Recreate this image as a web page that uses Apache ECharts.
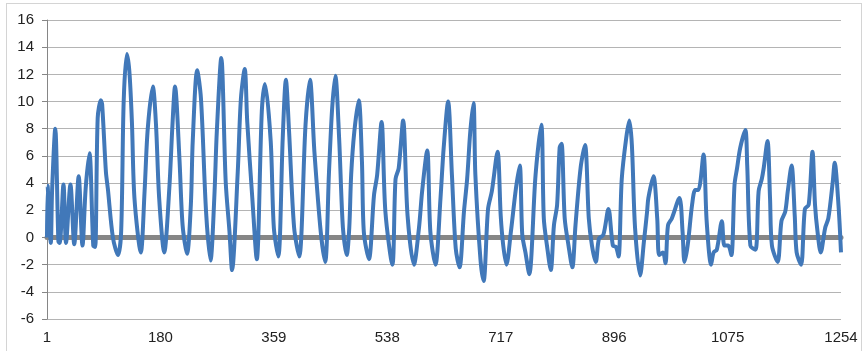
<!DOCTYPE html>
<html lang="en">
  <head>
    <meta charset="UTF-8" />
    <title>line</title>
    <script src="https://cdn.jsdelivr.net/npm/echarts@6/dist/echarts.min.js"></script>
    <style>
      html,
      body {
        margin: 0;
        padding: 0;
        background: #fff;
      }
      .frame {
        position: absolute;
        left: 6px;
        top: 3px;
        width: 854px;
        height: 350px;
        border: 1px solid #d4d4d4;
      }
      .chart {
        position: absolute;
        left: 0;
        top: 0;
        width: 866px;
        height: 351px;
      }
    </style>
  </head>
  <body>
    <div class="frame"></div>
    <div class="chart" id="chart"></div>
    <script type="text/javascript">
      // x tick labels (sample number)
      const xTickLabels = [1, 180, 359, 538, 717, 896, 1075, 1254];
      // y ticks
      const yTicks = [-6, -4, -2, 0, 2, 4, 6, 8, 10, 12, 14, 16];
      // sample offsets (0 = sample 1) of the traced vertices
      const pointIndex = [
        0, 1, 3, 6, 8, 13, 18, 20, 26, 30, 37, 43, 50, 56, 61, 67, 73, 76, 80, 85,
        87, 93, 96, 104, 112, 117, 121, 126, 130, 134, 138, 148, 154, 159, 167, 172, 177, 185, 193, 198,
        202, 209, 214, 221, 227, 230, 237, 243, 251, 258, 264, 268, 275, 282, 288, 292, 301, 306, 312, 316,
        324, 331, 339, 344, 353, 358, 365, 372, 377, 382, 390, 398, 408, 415, 422, 432, 439, 445, 450, 455,
        461, 467, 473, 477, 480, 485, 492, 497, 500, 508, 516, 521, 528, 534, 545, 550, 555, 562, 569, 579,
        587, 592, 600, 605, 613, 621, 626, 633, 639, 645, 651, 658, 663, 668, 673, 676, 684, 689, 696, 702,
        711, 716, 720, 725, 732, 740, 746, 750, 755, 761, 771, 780, 784, 789, 795, 800, 805, 809, 812, 817,
        823, 829, 834, 842, 849, 855, 860, 866, 871, 878, 886, 893, 898, 902, 907, 914, 919, 923, 928, 936,
        942, 947, 949, 957, 963, 966, 972, 976, 980, 986, 998, 1003, 1006, 1011, 1018, 1023, 1028, 1036, 1041, 1048,
        1052, 1057, 1065, 1069, 1075, 1080, 1085, 1089, 1094, 1102, 1105, 1110, 1118, 1123, 1128, 1131, 1137, 1141, 1144, 1153,
        1159, 1165, 1169, 1175, 1180, 1183, 1190, 1196, 1202, 1208, 1212, 1216, 1221, 1228, 1233, 1240, 1243, 1249, 1253,
      ];
      // values at those vertices
      const pointValue = [
        0.0, 3.8, 2.0, -0.4, 3.4, 8.0, -0.3, -0.4, 3.9, -0.4, 3.9, -0.5, 4.5, -0.6, 3.6, 6.2, -0.6, -0.7, 8.8, 10.1,
        9.8, 4.8, 3.6, 0.0, -1.3, 0.4, 10.0, 13.5, 12.2, 8.5, 2.9, -1.1, 3.4, 8.0, 11.1, 8.3, 2.9, -1.1, 3.6, 8.3,
        11.1, 5.8, 0.9, -1.2, 2.4, 7.1, 12.3, 10.2, 1.9, -1.7, 2.9, 7.8, 13.2, 4.1, 0.4, -2.4, 4.8, 10.2, 12.4, 8.5,
        2.9, -1.6, 9.3, 11.3, 7.1, 0.7, -1.4, 7.3, 11.6, 7.8, 0.7, -1.4, 8.3, 11.6, 6.3, 0.4, -1.8, 4.8, 9.5, 11.9,
        7.3, 0.7, -1.3, 0.7, 4.6, 7.8, 10.1, 5.6, 0.4, -1.6, 3.1, 4.6, 8.5, 1.9, -2.0, 4.3, 5.1, 8.6, 1.6, -2.0,
        0.7, 3.4, 6.4, 0.4, -2.0, 2.9, 6.6, 10.0, 4.6, -0.8, -2.2, 1.9, 4.3, 7.8, 9.9, 4.6, -1.6, -3.2, 2.1, 3.4,
        6.3, 1.6, -0.6, -2.0, 0.4, 3.6, 5.3, 0.2, -1.1, -2.7, 4.6, 8.3, 1.4, -0.6, -2.4, 0.9, 2.4, 6.6, 6.9, 1.4,
        -0.6, -2.2, 0.9, 5.1, 6.8, 1.4, -0.6, -1.8, -0.1, 0.2, 2.1, -0.6, -0.7, -1.4, 4.3, 7.3, 8.6, 6.8, 0.7, -2.8,
        -0.3, 1.9, 2.9, 4.5, 1.4, -1.3, -1.1, -1.9, 0.9, 1.4, 2.9, 0.4, -1.8, -0.6, 2.4, 3.5, 3.5, 6.1, 1.2, -2.0,
        -1.1, -0.9, 1.2, -0.6, -0.6, -1.3, 3.9, 5.1, 6.6, 7.9, 5.3, -0.6, -0.9, 3.4, 4.3, 5.1, 7.1, 2.9, -0.6, -1.8,
        1.2, 1.9, 3.4, 5.3, 1.6, -1.1, -2.0, 2.1, 2.4, 6.3, 2.4, 0.4, -1.1, 0.7, 1.4, 4.1, 5.5, 2.4, -1.1,
      ];

      const dom = document.getElementById("chart");
      const myChart = echarts.init(dom);
      const lineData = pointIndex.map((x, i) => [x, pointValue[i]]);
      const step = xTickLabels[1] - xTickLabels[0];
      const labelFont = {
        color: "#222",
        fontSize: 15,
        fontFamily: "Liberation Sans, Arial, sans-serif",
      };

      const options = {
        animation: false,
        grid: {
          left: 47,
          right: 25,
          top: 20,
          bottom: 32,
        },
        xAxis: [
          {
            // axis line crossing at 0
            type: "value",
            min: 0,
            max: xTickLabels[xTickLabels.length - 1] - 1,
            interval: step,
            axisLine: {
              onZero: true,
              lineStyle: { color: "#868686", width: 5 },
            },
            axisTick: { show: false },
            axisLabel: { show: false },
            splitLine: { show: false },
          },
          {
            // labels along the bottom
            type: "value",
            position: "bottom",
            min: 0,
            max: xTickLabels[xTickLabels.length - 1] - 1,
            interval: step,
            axisLine: { show: false },
            axisTick: { show: false },
            splitLine: { show: false },
            axisLabel: {
              ...labelFont,
              margin: 11,
              showMinLabel: true,
              showMaxLabel: true,
              formatter: (v) => xTickLabels[Math.round(v / step)],
            },
          },
        ],
        yAxis: {
          type: "value",
          min: yTicks[0],
          max: yTicks[yTicks.length - 1],
          interval: 2,
          axisLine: {
            show: true,
            onZero: false,
            lineStyle: { color: "#868686", width: 1 },
          },
          axisTick: {
            show: true,
            length: 5,
            lineStyle: { color: "#868686" },
          },
          axisLabel: {
            ...labelFont,
            margin: 13,
          },
          splitLine: {
            show: true,
            lineStyle: { color: "#b4b4b4", width: 1 },
          },
        },
        series: [
          {
            type: "line",
            xAxisIndex: 0,
            data: lineData,
            showSymbol: false,
            smooth: 0.3,
            z: 5,
            lineStyle: {
              color: "#4178b9",
              width: 4,
              join: "round",
            },
          },
        ],
      };
      if (options && typeof options === "object") {
        myChart.setOption(options);
      }
    </script>
  </body>
</html>
